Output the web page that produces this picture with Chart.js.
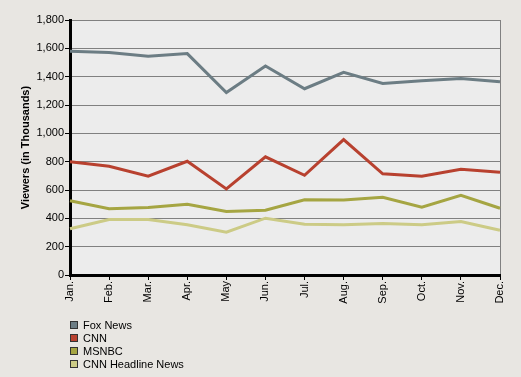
<!DOCTYPE html>
<html>
<head>
<meta charset="utf-8">
<script src="https://cdn.jsdelivr.net/npm/chart.js@4/dist/chart.umd.min.js"></script>
<style>
  html, body { margin: 0; padding: 0; background: #e8e6e2; }
  #wrap { position: relative; width: 521px; height: 377px; }
</style>
</head>
<body>
<div id="wrap"><canvas id="viewers_chart" width="521" height="377"></canvas></div>
<script>
const months = ["Jan.", "Feb.", "Mar.", "Apr.", "May", "Jun.", "Jul.", "Aug.", "Sep.", "Oct.", "Nov.", "Dec."];
const fox_news = [1580, 1570, 1545, 1563, 1288, 1475, 1315, 1430, 1352, 1372, 1387, 1364];
const cnn = [800, 768, 697, 803, 608, 834, 704, 956, 714, 697, 747, 726];
const msnbc = [524, 467, 476, 500, 448, 457, 531, 529, 549, 479, 563, 471];
const cnn_headline = [326, 392, 392, 354, 302, 401, 359, 354, 364, 354, 378, 316];
const y_ticks = [0, 200, 400, 600, 800, 1000, 1200, 1400, 1600, 1800];

const series_names = ["Fox News", "CNN", "MSNBC", "CNN Headline News"];
const series_colors = ["#6c7d84", "#b8412f", "#a5a542", "#cccb86"];

const font_family = "'Liberation Sans', Arial, sans-serif";

// plot background
const plot_bg = {
    id: "plot_bg",
    beforeDraw(chart)
    {
        const a = chart.chartArea;
        const ctx = chart.ctx;
        ctx.save();
        ctx.fillStyle = "#ececec";
        ctx.fillRect(a.left, a.top, a.right - a.left, a.bottom - a.top);
        ctx.restore();
    }
};

// vertical legend under the chart
const list_legend = {
    id: "list_legend",
    afterDraw(chart)
    {
        const ctx = chart.ctx;
        ctx.save();
        ctx.font = "11px " + font_family;
        ctx.textBaseline = "middle";
        chart.data.datasets.forEach((ds, i) =>
        {
            const y = 325 + i * 13;
            ctx.fillStyle = ds.borderColor;
            ctx.fillRect(70.5, y - 3.5, 7, 7);
            ctx.strokeStyle = "#333333";
            ctx.lineWidth = 1;
            ctx.strokeRect(70.5, y - 3.5, 7, 7);
            ctx.fillStyle = "#000000";
            ctx.fillText(ds.label, 83, y + 0.5);
        });
        ctx.restore();
    }
};

const viewers_chart = new Chart("viewers_chart",
{
    type: "line",
    data:
    {
        labels: months,
        datasets: [fox_news, cnn, msnbc, cnn_headline].map((values, i) => ({
            label: series_names[i],
            data: values,
            fill: false,
            borderColor: series_colors[i],
            backgroundColor: series_colors[i],
            borderWidth: 3,
            pointRadius: 0,
            tension: 0
        }))
    },
    options:
    {
        animation: false,
        responsive: false,
        layout: { padding: { top: 20, right: 21, bottom: 0, left: 0 } },
        plugins:
        {
            legend: { display: false },
            tooltip: { enabled: false }
        },
        scales:
        {
            x:
            {
                offset: false,
                afterFit: scale => { scale.height = 102; },
                border: { color: "#000000", width: 3 },
                grid:
                {
                    color: c => c.index === months.length - 1 ? "#808080" : "rgba(0,0,0,0)",
                    tickColor: "#000000",
                    tickLength: 5,
                    lineWidth: 1
                },
                ticks:
                {
                    color: "#000000",
                    font: { family: font_family, size: 11 },
                    minRotation: 90,
                    maxRotation: 90,
                    padding: 1,
                    autoSkip: false
                }
            },
            y:
            {
                min: 0,
                max: 1800,
                afterFit: scale => { scale.width = 70; },
                afterBuildTicks: scale => { scale.ticks = y_ticks.map(v => ({ value: v })); },
                border: { color: "#000000", width: 3 },
                grid:
                {
                    color: "#808080",
                    tickColor: "#000000",
                    tickLength: 5,
                    lineWidth: 1
                },
                ticks:
                {
                    color: "#000000",
                    font: { family: font_family, size: 11 },
                    padding: 1,
                    callback: v => v.toLocaleString("en-US")
                },
                title:
                {
                    display: true,
                    text: "Viewers (in Thousands)",
                    color: "#000000",
                    font: { family: font_family, size: 11, weight: "bold" },
                    padding: { top: 19, bottom: 0 }
                }
            }
        }
    },
    plugins: [plot_bg, list_legend]
});
</script>
</body>
</html>
